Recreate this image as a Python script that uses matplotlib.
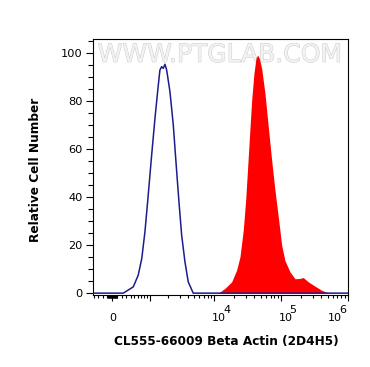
import numpy as np
import matplotlib
matplotlib.use("Agg")
import matplotlib.pyplot as plt
import matplotlib.patheffects as pe
from matplotlib.ticker import FixedLocator, MultipleLocator, NullFormatter

plt.rcParams["font.family"] = "DejaVu Sans"

# control (unstained) histogram: fluorescence intensity vs relative count
ctrl_x = [-430, 230, 468, 605, 713, 819, 939, 1077, 1225, 1355, 1476, 1575,
          1671, 1778, 1891, 2129, 2398, 2636, 2929, 3222, 3617, 4055, 4825, 1.0e6]
ctrl_y = [0, 0, 2.6, 7.5, 14.4, 25.5, 40.8, 57.4, 72.7, 83.8, 92.8, 94.2,
          93.5, 95.2, 92.8, 83.8, 69.9, 54.6, 38.0, 24.1, 13.0, 4.7, 0, 0]

# CL555-66009 stained histogram
stain_x = [-430, 11480, 14475, 18240, 21660, 24300, 27240, 29600, 31730, 33990,
           36400, 39400, 42200, 44800, 47300, 51400, 57600, 64600, 72600, 81300,
           91200, 102500, 114900, 136500, 162300, 192900, 216100, 256900,
           323600, 407600, 512000, 723000, 1.0e6]
stain_y = [0, 0, 2.0, 4.7, 9.6, 15.1, 26.2, 38.7, 52.6, 66.5,
           80.3, 91.4, 97.7, 99.0, 97.7, 93.5, 83.1, 69.2, 55.3, 42.9,
           31.8, 20.0, 13.5, 8.9, 6.0, 6.1, 6.5, 4.7,
           2.9, 1.2, 0.1, 0, 0]

y_ticks = [0, 20, 40, 60, 80, 100]
x_major = [0, 1e3, 1e4, 1e5, 1e6]
x_labels = {0: "0", 1e4: ("10", "4"), 1e5: ("10", "5"), 1e6: ("10", "6")}

# biexponential-like display scale (arcsinh)
W = 592.0


def fwd(x):
    return np.arcsinh(np.asarray(x, dtype=float) / W)


def inv(y):
    return W * np.sinh(np.asarray(y, dtype=float))


fig = plt.figure(figsize=(3.7, 3.67), dpi=100)
ax = fig.add_axes([0.2505, 0.196, 0.69, 0.697])

ax.set_xscale("function", functions=(fwd, inv))
ax.fill_between(stain_x, stain_y, color="#ff0000", lw=0, zorder=2)
ax.plot(ctrl_x, ctrl_y, color="#1c1c8c", lw=1.1, zorder=3)

ax.set_xlim(-431, 1.012e6)
ax.set_ylim(-0.8, 105.6)

# watermark
ax.text(0.499, 0.939, "WWW.PTGLAB.COM", transform=ax.transAxes,
        ha="center", va="center", fontsize=18, color="#f2f2f2", zorder=1,
        path_effects=[pe.withStroke(linewidth=0.7, foreground="#cccccc")])

# x ticks
minor = []
for d in [10, 100]:
    for m in range(1, 10):
        for s in (-1, 1):
            v = s * m * d
            if v > -431:
                minor.append(v)
for d in [1e3, 1e4, 1e5]:
    for m in range(2, 10):
        minor.append(m * d)
ax.xaxis.set_major_locator(FixedLocator(x_major))
ax.xaxis.set_minor_locator(FixedLocator(minor))
ax.xaxis.set_major_formatter(NullFormatter())
ax.xaxis.set_minor_formatter(NullFormatter())
ax.tick_params(axis="x", which="major", length=4.3, width=0.8)
ax.tick_params(axis="x", which="minor", length=2.4, width=0.8)

for v, lab in x_labels.items():
    if isinstance(lab, str):
        ax.annotate(lab, xy=(v, 0), xycoords=("data", "axes fraction"),
                    xytext=(0, -18), textcoords="offset pixels",
                    ha="center", va="top", fontsize=8)
    else:
        dx = -20 if v == 1e6 else -2.6
        ax.annotate(lab[0], xy=(v, 0), xycoords=("data", "axes fraction"),
                    xytext=(dx, -18), textcoords="offset pixels",
                    ha="left", va="top", fontsize=8)
        ax.annotate(lab[1], xy=(v, 0), xycoords=("data", "axes fraction"),
                    xytext=(dx + 11.3, -9.5), textcoords="offset pixels",
                    ha="left", va="top", fontsize=8)

# y ticks
ax.set_yticks(y_ticks)
ax.yaxis.set_minor_locator(MultipleLocator(5))
ax.tick_params(axis="y", which="major", length=5.4, width=0.8, labelsize=8.2, pad=2)
ax.tick_params(axis="y", which="minor", length=3.4, width=0.8)

for sp in ax.spines.values():
    sp.set_linewidth(0.8)

ax.set_xlabel("CL555-66009 Beta Actin (2D4H5)", fontsize=8.7, fontweight="bold")
ax.xaxis.set_label_coords(0.525, -0.183)
ax.xaxis.label.set_va("center")
ax.set_ylabel("Relative Cell Number", fontsize=8.7, fontweight="bold")
ax.yaxis.set_label_coords(-0.224, 0.491)
ax.yaxis.label.set_va("center")

fig.savefig("out.png", dpi=100, facecolor="white")
